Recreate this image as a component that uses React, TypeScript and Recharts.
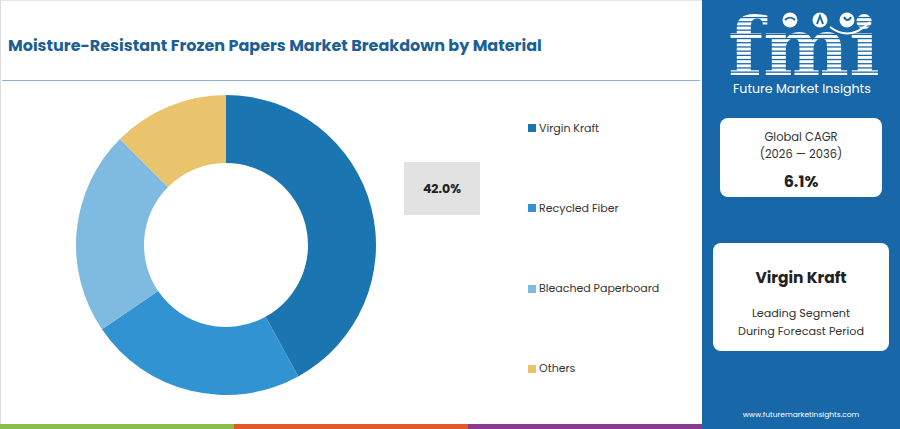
import React from "react";
import { PieChart, Pie, Cell } from "recharts";

const categories = ["Virgin Kraft", "Recycled Fiber", "Bleached Paperboard", "Others"];
const shares = [42.0, 23.5, 22.0, 12.5];
const colors = ["#1b75b0", "#3293d3", "#7fbae0", "#e9c46d"];
const title = "Moisture-Resistant Frozen Papers Market Breakdown by Material";
const cagrLabel = "Global CAGR";
const cagrPeriod = "(2026 \u2014 2036)";
const cagrValue = "6.1%";
const leadingSegment = "Virgin Kraft";

const data = categories.map((name, i) => ({ name, value: shares[i] }));

const FONT = "Poppins, 'Open Sans', Inter, sans-serif";
const PANEL = "#1767a9";

function Logo() {
  const stripes = [];
  for (let y = 14; y < 78; y += 4.2) {
    stripes.push(<rect key={y} x={0} y={y} width={198} height={2.9} fill="#fff" />);
  }
  return (
    <svg width={198} height={100} style={{ position: "absolute", left: 0, top: 0 }}>
      <defs>
        <clipPath id="fmiClip">
          <text x={26} y={75} fontFamily="'DejaVu Serif', serif" fontWeight="bold" fontSize={80} textLength={152} lengthAdjust="spacingAndGlyphs">
            fmi
          </text>
        </clipPath>
      </defs>
      <g clipPath="url(#fmiClip)">{stripes}</g>
      <circle cx={88} cy={20} r={7.5} fill="#fff" />
      <circle cx={118} cy={20} r={7.5} fill="#fff" />
      <circle cx={145} cy={20} r={7.5} fill="#fff" />
      <path d="M83 20 c3 -3 7 -3 10 0" stroke={PANEL} strokeWidth={2} fill="none" />
      <path d="M115 24 l3 -8 l3 8" stroke={PANEL} strokeWidth={2} fill="none" />
      <path d="M142 17 c2 4 5 4 7 0" stroke={PANEL} strokeWidth={2} fill="none" />
      <path d="M128 27 Q148 42 168 22" stroke="#fff" strokeWidth={2} fill="none" />
      <text x={31} y={93} fontFamily={FONT} fontSize={12.6} fill="#fff">
        Future Market Insights
      </text>
    </svg>
  );
}

function LegendList() {
  return (
    <div style={{ position: "absolute", left: 528, top: 0 }}>
      {data.map((d, i) => (
        <div
          key={d.name}
          style={{
            position: "absolute",
            top: 120 + i * 80.3,
            left: 0,
            height: 16,
            display: "flex",
            alignItems: "center",
            whiteSpace: "nowrap",
            fontFamily: FONT,
            fontSize: 11,
            color: "#333",
          }}
        >
          <span style={{ width: 8, height: 8, background: colors[i], display: "inline-block", marginRight: 3 }} />
          <span>{d.name}</span>
        </div>
      ))}
    </div>
  );
}

export default function App() {
  return (
    <div style={{ position: "fixed", left: 0, top: 0, width: 900, height: 429, background: "#fff", overflow: "hidden", fontFamily: FONT }}>
      <div style={{ position: "absolute", left: 0, top: 0, width: 702, height: 424, borderLeft: "1px solid #ddd", borderTop: "1px solid #e6e6e6", boxSizing: "border-box" }} />
      <div style={{ position: "absolute", left: 8, top: 33, fontSize: 16, fontWeight: 700, color: "#1c5f95", whiteSpace: "nowrap" }}>{title}</div>
      <div style={{ position: "absolute", left: 2, top: 80, width: 698, height: 1, background: "#8fb1c9" }} />

      <div style={{ position: "absolute", left: 0, top: 0 }}>
        <PieChart width={700} height={424} margin={{ top: 0, right: 0, bottom: 0, left: 0 }}>
          <Pie
            data={data}
            dataKey="value"
            nameKey="name"
            cx={226}
            cy={245}
            outerRadius={150}
            innerRadius={82}
            startAngle={90}
            endAngle={-270}
            stroke="none"
            isAnimationActive={false}
          >
            {data.map((d, i) => (
              <Cell key={d.name} fill={colors[i]} />
            ))}
          </Pie>
        </PieChart>
      </div>

      <div style={{ position: "absolute", left: 404, top: 162, width: 76, height: 53, background: "#e2e2e2", display: "flex", alignItems: "center", justifyContent: "center", fontSize: 12.5, fontWeight: 700, color: "#222" }}>
        {shares[0].toFixed(1)}%
      </div>

      <LegendList />

      <div style={{ position: "absolute", left: 0, top: 424, width: 234, height: 5, background: "#8bbd4b" }} />
      <div style={{ position: "absolute", left: 234, top: 424, width: 234, height: 5, background: "#e05a2c" }} />
      <div style={{ position: "absolute", left: 468, top: 424, width: 235, height: 5, background: "#8b3a8f" }} />

      <div style={{ position: "absolute", left: 702, top: 0, width: 198, height: 429, background: PANEL }}>
        <Logo />
        <div style={{ position: "absolute", left: 18, top: 118, width: 162, height: 79, background: "#fff", borderRadius: 8, textAlign: "center", color: "#333" }}>
          <div style={{ position: "absolute", top: 11, width: "100%", fontSize: 11.5 }}>{cagrLabel}</div>
          <div style={{ position: "absolute", top: 28, width: "100%", fontSize: 11.5 }}>{cagrPeriod}</div>
          <div style={{ position: "absolute", top: 51, width: "100%", fontSize: 16, fontWeight: 700, color: "#222" }}>{cagrValue}</div>
        </div>
        <div style={{ position: "absolute", left: 11, top: 243, width: 176, height: 108, background: "#fff", borderRadius: 8, textAlign: "center", color: "#333" }}>
          <div style={{ position: "absolute", top: 23, width: "100%", fontSize: 15.5, fontWeight: 700, color: "#222" }}>{leadingSegment}</div>
          <div style={{ position: "absolute", top: 62, width: "100%", fontSize: 11.2 }}>Leading Segment</div>
          <div style={{ position: "absolute", top: 80, width: "100%", fontSize: 11.2 }}>During Forecast Period</div>
        </div>
        <div style={{ position: "absolute", top: 409, width: "100%", textAlign: "center", fontSize: 7.5, color: "#fff" }}>
          www.futuremarketinsights.com
        </div>
      </div>
    </div>
  );
}
